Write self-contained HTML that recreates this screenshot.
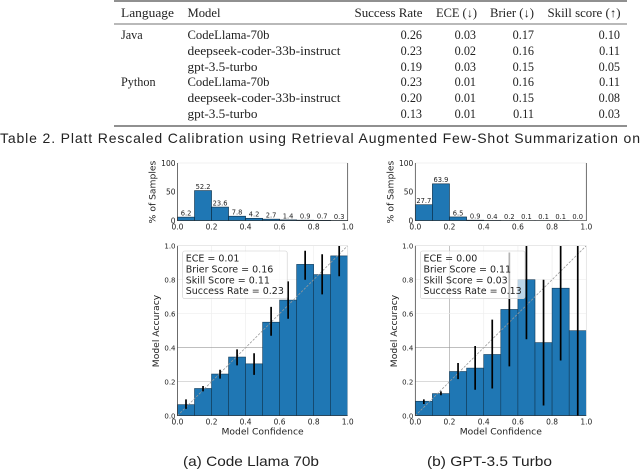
<!DOCTYPE html>
<html>
<head>
<meta charset="utf-8">
<title>Platt Rescaled Calibration</title>
<style>
html,body{margin:0;padding:0;background:#fff;width:640px;height:470px;overflow:hidden}
svg{display:block;filter:blur(0.35px)}
.tb{font-family:"Liberation Serif",serif;font-size:12.2px;fill:#222}
.cap{font-family:"Liberation Sans",sans-serif;fill:#222}
.ch{font-family:"DejaVu Sans",sans-serif;fill:#222}
</style>
</head>
<body>
<svg id="root" xmlns="http://www.w3.org/2000/svg" width="640" height="470" viewBox="0 0 640 470">
<g>
<line x1="114" x2="627" y1="1" y2="1" stroke="#222" stroke-width="1.1"/>
<line x1="114" x2="627" y1="24" y2="24" stroke="#444" stroke-width="0.7"/>
<line x1="114" x2="627" y1="126" y2="126" stroke="#222" stroke-width="1.1"/>
<text class="tb" x="121" y="17" textLength="53" lengthAdjust="spacingAndGlyphs">Language</text>
<text class="tb" x="187.5" y="17" textLength="33" lengthAdjust="spacingAndGlyphs">Model</text>
<text class="tb" x="354.5" y="17" textLength="68" lengthAdjust="spacingAndGlyphs">Success Rate</text>
<text class="tb" x="436" y="17" textLength="41" lengthAdjust="spacingAndGlyphs">ECE (↓)</text>
<text class="tb" x="490" y="17" textLength="44" lengthAdjust="spacingAndGlyphs">Brier (↓)</text>
<text class="tb" x="547.5" y="17" textLength="73" lengthAdjust="spacingAndGlyphs">Skill score (↑)</text>

<text class="tb" x="121" y="39">Java</text>
<text class="tb" x="187.5" y="39" textLength="82" lengthAdjust="spacingAndGlyphs">CodeLlama-70b</text>
<text class="tb" x="187.5" y="55" textLength="153" lengthAdjust="spacingAndGlyphs">deepseek-coder-33b-instruct</text>
<text class="tb" x="187.5" y="71" textLength="70" lengthAdjust="spacingAndGlyphs">gpt-3.5-turbo</text>
<text class="tb" x="121" y="86">Python</text>
<text class="tb" x="187.5" y="86" textLength="82" lengthAdjust="spacingAndGlyphs">CodeLlama-70b</text>
<text class="tb" x="187.5" y="102" textLength="153" lengthAdjust="spacingAndGlyphs">deepseek-coder-33b-instruct</text>
<text class="tb" x="187.5" y="118" textLength="70" lengthAdjust="spacingAndGlyphs">gpt-3.5-turbo</text>

<g text-anchor="end">
<text class="tb" x="422" y="39">0.26</text><text class="tb" x="422" y="55">0.23</text><text class="tb" x="422" y="71">0.19</text><text class="tb" x="422" y="86">0.23</text><text class="tb" x="422" y="102">0.20</text><text class="tb" x="422" y="118">0.13</text>
</g>
<g text-anchor="end">
<text class="tb" x="476" y="39">0.03</text><text class="tb" x="476" y="55">0.02</text><text class="tb" x="476" y="71">0.03</text><text class="tb" x="476" y="86">0.01</text><text class="tb" x="476" y="102">0.01</text><text class="tb" x="476" y="118">0.01</text>
</g>
<g text-anchor="end">
<text class="tb" x="534" y="39">0.17</text><text class="tb" x="534" y="55">0.16</text><text class="tb" x="534" y="71">0.15</text><text class="tb" x="534" y="86">0.16</text><text class="tb" x="534" y="102">0.15</text><text class="tb" x="534" y="118">0.11</text>
</g>
<g text-anchor="end">
<text class="tb" x="620" y="39">0.10</text><text class="tb" x="620" y="55">0.11</text><text class="tb" x="620" y="71">0.05</text><text class="tb" x="620" y="86">0.11</text><text class="tb" x="620" y="102">0.08</text><text class="tb" x="620" y="118">0.03</text>
</g>
</g>
<text class="cap" x="0" y="143" font-size="14" textLength="640" lengthAdjust="spacing">Table 2.  Platt Rescaled Calibration using Retrieval Augmented Few-Shot Summarization on</text>
<text class="cap" x="183" y="466" font-size="14" textLength="136" lengthAdjust="spacingAndGlyphs">(a) Code Llama 70b</text>
<text class="cap" x="427" y="466" font-size="14" textLength="125" lengthAdjust="spacingAndGlyphs">(b) GPT-3.5 Turbo</text>
<g id="charts"></g>
</svg>
<script>
var binCenters = [0.05,0.15,0.25,0.35,0.45,0.55,0.65,0.75,0.85,0.95];
var xTickLabels = ["0.0","0.2","0.4","0.6","0.8","1.0"];
var yTickLabels = ["0.0","0.2","0.4","0.6","0.8","1.0"];
var histTickLabels = ["0","50","100"];

var samplesA = [6.2,52.2,23.6,7.8,4.2,2.7,1.4,0.9,0.7,0.3];
var accuracyA = [0.065,0.16,0.245,0.345,0.305,0.55,0.68,0.89,0.83,0.94];
var errLowA = [0.04,0.143,0.218,0.296,0.24,0.47,0.57,0.80,0.714,0.82];
var errHighA = [0.096,0.175,0.27,0.39,0.367,0.64,0.79,0.97,0.95,1.02];
var statsA = ["ECE = 0.01","Brier Score = 0.16","Skill Score = 0.11","Success Rate = 0.23"];

var samplesB = [27.7,63.9,6.5,0.9,0.4,0.2,0.1,0.1,0.1,0.0];
var accuracyB = [0.085,0.13,0.26,0.28,0.36,0.625,0.80,0.43,0.75,0.50];
var errLowB = [0.069,0.12,0.215,0.153,0.16,0.29,0.45,0.06,0.325,0.0];
var errHighB = [0.096,0.143,0.31,0.41,0.565,0.96,1.02,0.80,1.02,1.02];
var statsB = ["ECE = 0.00","Brier Score = 0.11","Skill Score = 0.03","Success Rate = 0.13"];

var NS = "http://www.w3.org/2000/svg";
var host = document.getElementById("charts");
function mk(parent, tag, attrs, text) {
  var el = document.createElementNS(NS, tag);
  for (var k in attrs) el.setAttribute(k, attrs[k]);
  if (text !== undefined) el.textContent = text;
  parent.appendChild(el);
  return el;
}
var BLUE = "#1f77b4";

function drawHist(left, right, values) {
  var top = 163, bottom = 220.7;
  var g = mk(host, "g", {});
  
  
  var sx = function (v) { return left + (right - left) * v; };
  var sy = function (v) { return bottom - (bottom - top) * v / 100; };
  var topSpine = mk(g, "line", {x1: left, x2: right, y1: top, y2: top, stroke: "#e4e4e4", "stroke-width": 0.6});
  
  
  values.forEach(function (v, i) {
    var c = binCenters[i];
    var bar = mk(g, "rect", {x: sx(c - 0.05), y: sy(v), width: sx(c + 0.05) - sx(c - 0.05), height: bottom - sy(v), fill: BLUE, stroke: "#0b2a40", "stroke-width": 0.6});
    
    
    var lab = mk(g, "text", {"class": "ch", x: sx(c), y: sy(v) - 1.6, "font-size": 6.7, "text-anchor": "middle"}, v.toFixed(1));
    
    
  });
  var axes = mk(g, "path", {d: "M" + left + " " + top + "V" + bottom + "H" + right + "V" + top, fill: "none", stroke: "#333", "stroke-width": 0.7});
  
  
  xTickLabels.forEach(function (t) {
    var x = sx(parseFloat(t));
    var lab = mk(g, "text", {"class": "ch", x: x, y: 229.5, "font-size": 7.5, "text-anchor": "middle"}, t);
    
    
  });
  histTickLabels.forEach(function (t) {
    var y = sy(parseFloat(t));
    var lab = mk(g, "text", {"class": "ch", x: left - 2, y: y + 2.8, "font-size": 7.5, "text-anchor": "end"}, t);
    
    
  });
  var yt = mk(g, "text", {"class": "ch", transform: "translate(" + (left - 22) + " 192) rotate(-90)", "font-size": 9.2, "text-anchor": "middle"}, "% of Samples");
  
  
}

function drawCal(left, right, acc, lo, hi, stats, clipId, darkV) {
  var top = 245.7, bottom = 415.7;
  var g = mk(host, "g", {});
  
  
  var sx = function (v) { return left + (right - left) * v; };
  var sy = function (v) { return bottom - (bottom - top) * v; };
  var defs = mk(g, "defs", {});
  var cp = mk(defs, "clipPath", {id: clipId});
  mk(cp, "rect", {x: left, y: top, width: right - left, height: bottom - top});
  yTickLabels.forEach(function (t) {
    var v = parseFloat(t);
    var dark = (v === 0.2 || v === 0.4);
    var h = mk(g, "line", {x1: left, x2: right, y1: sy(v), y2: sy(v), stroke: dark ? (v === 0.4 ? "#999" : "#c4c4c4") : "#eee", "stroke-width": 0.7});
    
    
    var vert = mk(g, "line", {x1: sx(v), x2: sx(v), y1: top, y2: bottom, stroke: (darkV && v === 0.2) ? "#aaa" : "#eee", "stroke-width": 0.7});
    
    
  });
  acc.forEach(function (v, i) {
    var c = binCenters[i];
    var bar = mk(g, "rect", {x: sx(c - 0.05), y: sy(v), width: sx(c + 0.05) - sx(c - 0.05), height: bottom - sy(v), fill: BLUE, stroke: "#123a57", "stroke-width": 0.6});
    
    
  });
  var diag = mk(g, "line", {x1: sx(0), y1: sy(0), x2: sx(1), y2: sy(1), stroke: "#9a9a9a", "stroke-width": 0.8, "stroke-dasharray": "2.4 1.4"});
  
  
  var clipG = mk(g, "g", {"clip-path": "url(#" + clipId + ")"});
  acc.forEach(function (v, i) {
    var c = binCenters[i];
    var err = mk(clipG, "line", {x1: sx(c), x2: sx(c), y1: sy(hi[i]), y2: sy(lo[i]), stroke: "#000", "stroke-width": 1.7});
    
    
  });
  var box = mk(g, "rect", {x: left + 5.2, y: 251, width: 104.5, height: 47.7, rx: 2, fill: "#fff", "fill-opacity": 0.7, stroke: "#ccc", "stroke-width": 0.6});
  
  
  stats.forEach(function (s, i) {
    var t = mk(g, "text", {"class": "ch", x: left + 8.2, y: 261.7 + i * 10.8, "font-size": 9.5}, s);
    
    
  });
  var axes = mk(g, "path", {d: "M" + left + " " + top + "V" + bottom + "H" + right, fill: "none", stroke: "#333", "stroke-width": 0.7});
  
  
  var rs = mk(g, "path", {d: "M" + left + " " + top + "H" + right + "V" + bottom, fill: "none", stroke: "#ddd", "stroke-width": 0.6});
  
  
  xTickLabels.forEach(function (t) {
    var lab = mk(g, "text", {"class": "ch", x: sx(parseFloat(t)), y: 424.5, "font-size": 7.5, "text-anchor": "middle"}, t);
    
    
  });
  yTickLabels.forEach(function (t) {
    var lab = mk(g, "text", {"class": "ch", x: left - 2, y: sy(parseFloat(t)) + 2.6, "font-size": 7, "text-anchor": "end"}, t);
    
    
  });
  var xt = mk(g, "text", {"class": "ch", x: (left + right) / 2, y: 434.5, "font-size": 9.2, "text-anchor": "middle"}, "Model Confidence");
  
  
  var yt = mk(g, "text", {"class": "ch", transform: "translate(" + (left - 18.5) + " 331) rotate(-90)", "font-size": 9.2, "text-anchor": "middle"}, "Model Accuracy");
  
  
}

drawHist(177.5, 347.7, samplesA);
drawCal(177.5, 347.7, accuracyA, errLowA, errHighA, statsA, "clipA", false);
drawHist(415.3, 586.3, samplesB);
drawCal(415.3, 586.3, accuracyB, errLowB, errHighB, statsB, "clipB", true);
</script>
</body>
</html>
